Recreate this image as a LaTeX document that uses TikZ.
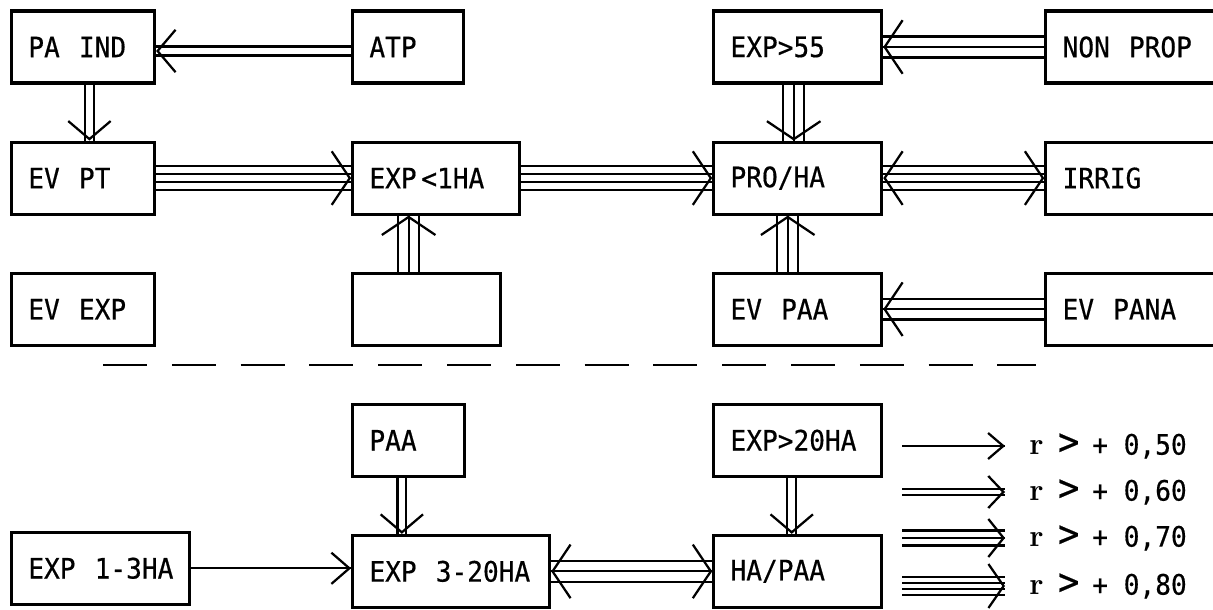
\documentclass[tikz,border=0pt]{standalone}
\usepackage{fontspec}
\usepackage{tikz}
\usetikzlibrary{positioning, arrows.meta, decorations.markings}
\newfontfamily\typefont[FakeStretch=0.93, FakeBold=0.5]{DejaVu Sans Mono}
\newcommand{\boxfont}{\typefont\fontsize{20}{22}\selectfont}
\newcommand{\wsp}{\kern0.68em}
% line spacing and head size of the links
\newcommand{\lnscale}{1}
\newcommand{\lnbase}{5}
\newcommand{\lnstep}{2.8}
\newcommand{\lncap}{3}
\newcommand{\lnlen}{4.5mm}
\tikzstyle{link} = [line width=1.6pt]
\tikzstyle{onehead} = [postaction={decorate, decoration={markings, mark=at position 1 with {\arrow{Straight Barb[length=\lnlen, width=\lnwid mm]}}}}]
\tikzstyle{twoheads} = [postaction={decorate, decoration={markings, mark=at position 0 with {\arrowreversed{Straight Barb[length=\lnlen, width=\lnwid mm]}}, mark=at position 1 with {\arrow{Straight Barb[length=\lnlen, width=\lnwid mm]}}}}]
\newcommand{\lnsetup}[1]{%
  \pgfmathsetmacro{\lnmid}{(#1+1)/2}%
  \pgfmathsetmacro{\lnsp}{\lnscale*(#1==4 ? 0.2 : (#1==3 ? 0.26 : 0.22))}%
  \pgfmathsetmacro{\lnwid}{\lnbase+\lnstep*min(#1,\lncap)}%
}
% horizontal link: [offset]{lines}{from}{to}{heads}
\newcommand{\hlink}[5][0cm]{%
  \lnsetup{#2}%
  \foreach \k in {1,...,#2}
    \draw[link] ([yshift={#1+(\k-\lnmid)*\lnsp cm}]#3) -- ([yshift={#1+(\k-\lnmid)*\lnsp cm}]#3 -| #4);
  \path[link, #5] ([yshift=#1]#3) -- ([yshift=#1]#3 -| #4);
}
% vertical link
\newcommand{\vlink}[5][0cm]{%
  \lnsetup{#2}%
  \foreach \k in {1,...,#2}
    \draw[link] ([xshift={#1+(\k-\lnmid)*\lnsp cm}]#3) -- ([xshift={#1+(\k-\lnmid)*\lnsp cm}]#3 |- #4);
  \path[link, #5] ([xshift=#1]#3) -- ([xshift=#1]#3 |- #4);
}
\newcommand{\keylabel}[1]{\makebox[0.56em][l]{\rmfamily\bfseries\fontsize{22}{22}\selectfont r} \makebox[0.56em][c]{\fontsize{27}{27}\selectfont>} + 0,#1}

\begin{document}
\begin{tikzpicture}[box/.style={draw, line width=2.2pt, minimum height=1.8cm, inner xsep=0.42cm, text width=#1-0.84cm, font=\boxfont},
    sep/.style={line width=1.8pt, dash pattern=on 1.1cm off 0.62cm},
    keytext/.style={font=\boxfont, inner sep=0pt}]
    \useasboundingbox (0,0) rectangle (30.325,-15.25);
    % first block
    \node[box=3.575cm, anchor=west] (pa) at (0.25,-1.175) {PA\wsp IND};
    \node[box=2.775cm, right=4.875cm of pa] (atp) {ATP};
    \node[box=4.2cm, right=6.175cm of atp] (exp55) {EXP>55};
    \node[box=4.225cm, right=4.025cm of exp55] (nonprop) {NON\wsp PROP};
    \node[box=3.575cm, below=1.4cm of pa] (evpt) {EV\wsp PT};
    \node[box=4.175cm, below=1.4cm of atp.south west, anchor=north west] (exp1) {EXP\,<1HA};
    \node[box=4.2cm, below=1.4cm of exp55] (proha) {PRO/HA};
    \node[box=4.225cm, below=1.4cm of nonprop] (irrig) {IRRIG};
    \node[box=3.575cm, below=1.4cm of evpt] (evexp) {EV\wsp EXP};
    \node[box=3.7cm, below=1.4cm of exp1.south west, anchor=north west] (blank) {};
    \node[box=4.2cm, below=1.4cm of proha] (evpaa) {EV\wsp PAA};
    \node[box=4.225cm, below=1.4cm of irrig] (evpana) {EV\wsp PANA};
    \hlink[-0.1cm]{2}{atp.west}{pa.east}{onehead}
    \vlink[0.16cm]{2}{pa.south}{evpt.north}{onehead}
    \hlink{4}{evpt.east}{exp1.west}{onehead}
    \hlink{4}{exp1.east}{proha.west}{onehead}
    \vlink[-0.45cm]{3}{blank.north}{exp1.south}{onehead}
    \hlink{3}{nonprop.west}{exp55.east}{onehead}
    \vlink[-0.1cm]{3}{exp55.south}{proha.north}{onehead}
    \hlink{4}{proha.east}{irrig.west}{twoheads}
    \vlink[-0.25cm]{3}{evpaa.north}{proha.south}{onehead}
    \hlink{3}{evpana.west}{evpaa.east}{onehead}
    \draw[sep] (2.575,-9.12) -- (25.9,-9.12);
    % second block
    \node[box=2.8cm, below=1.4cm of blank.south west, anchor=north west] (paa) {PAA};
    \node[box=4.2cm, below=1.4cm of evpaa] (exp20) {EXP>20HA};
    \node[box=4.45cm, below=4.6cm of evexp.south west, anchor=north west] (e13) {\mbox{EXP\wsp 1-3HA}};
    \node[box=4.925cm, below=1.4cm of paa.south west, anchor=north west] (e320) {\mbox{EXP\wsp 3-20HA}};
    \node[box=4.2cm, below=1.4cm of exp20] (hapaa) {HA/PAA};
    \vlink[-0.17cm]{2}{paa.south}{e320.north}{onehead}
    \vlink[-0.15cm]{2}{exp20.south}{hapaa.north}{onehead}
    \hlink{1}{e13.east}{e320.west}{onehead}
    \hlink{3}{e320.east}{hapaa.west}{twoheads}
    % key
    \begin{scope}
    \renewcommand{\lnscale}{0.72}
    \renewcommand{\lnstep}{1.5}
    \renewcommand{\lncap}{4}
    \renewcommand{\lnlen}{3.8mm}
    \coordinate (k1a) at (22.55,-11.15); \coordinate (k1b) at (25.125,-11.15);
    \coordinate (k2a) at (22.55,-12.3);  \coordinate (k2b) at (25.125,-12.3);
    \coordinate (k3a) at (22.55,-13.45); \coordinate (k3b) at (25.125,-13.45);
    \coordinate (k4a) at (22.55,-14.65); \coordinate (k4b) at (25.125,-14.65);
    \hlink{1}{k1a}{k1b}{onehead}
    \hlink{2}{k2a}{k2b}{onehead}
    \hlink{3}{k3a}{k3b}{onehead}
    \hlink{4}{k4a}{k4b}{onehead}
    \end{scope}
    \node[keytext, right=0.6cm of k1b] (key1) {\keylabel{50}};
    \node[keytext, right=0.6cm of k2b] (key2) {\keylabel{60}};
    \node[keytext, right=0.6cm of k3b] (key3) {\keylabel{70}};
    \node[keytext, right=0.6cm of k4b] (key4) {\keylabel{80}};
\end{tikzpicture}
\end{document}
